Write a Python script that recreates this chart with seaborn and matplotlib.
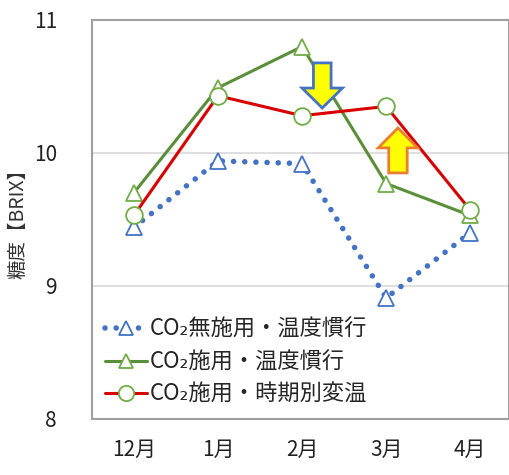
import matplotlib
matplotlib.use("Agg")
import matplotlib.pyplot as plt
from matplotlib.patches import FancyArrow
from matplotlib.lines import Line2D
import seaborn as sns
import pandas as pd

sns.set_style("white")
plt.rcParams['font.family'] = ['Noto Sans CJK JP', 'DejaVu Sans']

months = ["12月", "1月", "2月", "3月", "4月"]
no_co2_conv = [9.44, 9.94, 9.92, 8.91, 9.40]      # CO2無施用・温度慣行
co2_conv = [9.70, 10.49, 10.80, 9.77, 9.53]       # CO2施用・温度慣行
co2_seasonal = [9.53, 10.43, 10.28, 10.35, 9.57]  # CO2施用・時期別変温
labels = ["CO₂無施用・温度慣行", "CO₂施用・温度慣行", "CO₂施用・時期別変温"]

fig = plt.figure(figsize=(5.1, 4.75), dpi=100)
ax = fig.add_axes([0.180, 0.118, 0.818, 0.840])

blue = "#4472C4"
green = "#5B8E3A"
green_mk = "#70AD47"
red = "#D90000"
dotted = (0, (0.01, 2.0))

df = pd.DataFrame({"月": months, "a": no_co2_conv, "b": co2_conv, "c": co2_seasonal})

sns.lineplot(data=df, x="月", y="a", ax=ax, sort=False, color=blue, lw=4.0,
             linestyle=dotted, dash_capstyle="round",
             marker="^", markersize=11, markerfacecolor="white",
             markeredgecolor=blue, markeredgewidth=1.3, zorder=3)
sns.lineplot(data=df, x="月", y="b", ax=ax, sort=False, color=green, lw=2.2,
             marker="^", markersize=11, markerfacecolor="white",
             markeredgecolor=green_mk, markeredgewidth=1.3, zorder=4)
sns.lineplot(data=df, x="月", y="c", ax=ax, sort=False, color=red, lw=2.2,
             marker="o", markersize=12, markerfacecolor="white",
             markeredgecolor=green_mk, markeredgewidth=1.3, zorder=5)

# Emphasis arrows
ax.add_patch(FancyArrow(2.24, 10.677, 0, -0.339, width=0.21, head_width=0.48,
                        head_length=0.15, length_includes_head=True,
                        facecolor="#FFFF00", edgecolor=blue, lw=2, zorder=6))
ax.add_patch(FancyArrow(3.14, 9.85, 0, 0.338, width=0.22, head_width=0.47,
                        head_length=0.15, length_includes_head=True,
                        facecolor="#FFFF00", edgecolor="#ED7D31", lw=2, zorder=6))

ax.set_xlim(-0.5, 4.46)
ax.set_ylim(8, 11)
ax.set_yticks([8, 9, 10, 11])
ax.set_yticklabels(["8", "9", "10", "11"])
ax.yaxis.grid(True, color="#D9D9D9", lw=1.2)
ax.set_axisbelow(True)
ax.tick_params(axis="both", length=0, labelsize=15, colors="#222222")
ax.tick_params(axis="y", pad=25)
ax.tick_params(axis="x", pad=14)
ax.set_xlabel("")
ax.set_ylabel("糖度【BRIX】", fontsize=14, color="#333333", labelpad=4)
for s in ax.spines.values():
    s.set_color("#A0A0A0")
    s.set_linewidth(1.5)

handles = [
    Line2D([], [], color=blue, lw=4.0, linestyle=dotted,
           dash_capstyle="round", marker="^", markersize=10,
           markerfacecolor="white", markeredgecolor=blue, markeredgewidth=1.3),
    Line2D([], [], color=green, lw=2.2, marker="^", markersize=10,
           markerfacecolor="white", markeredgecolor=green_mk, markeredgewidth=1.3),
    Line2D([], [], color=red, lw=2.2, marker="o", markersize=11,
           markerfacecolor="white", markeredgecolor=green_mk, markeredgewidth=1.3),
]
ax.legend(handles, labels, loc="lower left", frameon=False, fontsize=16,
          handlelength=1.9, handletextpad=0.1, labelspacing=0.42,
          borderaxespad=0.2, bbox_to_anchor=(0.0, 0.0))

fig.savefig("out.png", dpi=100)
